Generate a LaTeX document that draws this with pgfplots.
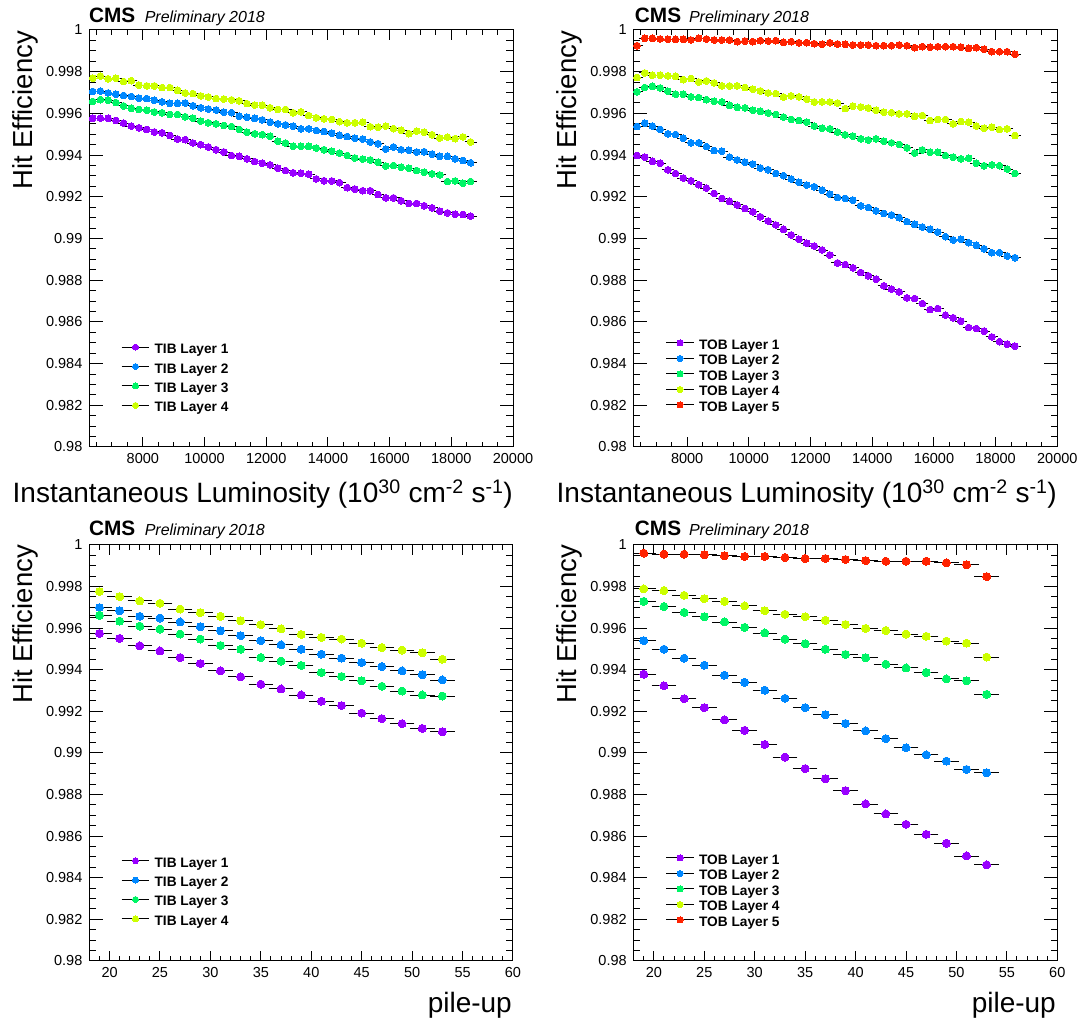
\documentclass[border=0pt]{standalone}
\usepackage{fontspec}
\setmainfont{Liberation Sans}
\usepackage{pgfplots}
\usepackage{pgfplotstable}
\pgfplotsset{compat=1.18}

\definecolor{cPur}{RGB}{153,0,255}
\definecolor{cBlu}{RGB}{0,136,255}
\definecolor{cGrn}{RGB}{0,245,102}
\definecolor{cYel}{RGB}{204,255,0}
\definecolor{cRed}{RGB}{255,34,0}

\pgfplotstableread{
x L1 L2 L3 L4
6375 0.99576 0.99705 0.99657 0.99769
6625 0.99577 0.99707 0.99666 0.99779
6875 0.99576 0.99698 0.99663 0.99766
7125 0.99566 0.99692 0.99652 0.99768
7375 0.99553 0.99686 0.99636 0.99753
7625 0.99539 0.99681 0.99624 0.99757
7875 0.99531 0.99673 0.99619 0.99736
8125 0.99523 0.99671 0.99615 0.99732
8375 0.99511 0.99663 0.99607 0.99732
8625 0.99507 0.99655 0.99603 0.99724
8875 0.99494 0.99648 0.99595 0.99724
9125 0.99477 0.99648 0.99595 0.99711
9375 0.99474 0.99650 0.99584 0.99698
9625 0.99458 0.99637 0.99576 0.99695
9875 0.99450 0.99627 0.99563 0.99684
10125 0.99439 0.99621 0.99555 0.99679
10375 0.99426 0.99616 0.99550 0.99671
10625 0.99415 0.99606 0.99542 0.99669
10875 0.99398 0.99603 0.99537 0.99665
11125 0.99394 0.99586 0.99523 0.99660
11375 0.99382 0.99582 0.99510 0.99647
11625 0.99369 0.99576 0.99502 0.99640
11875 0.99361 0.99569 0.99498 0.99639
12125 0.99353 0.99558 0.99490 0.99627
12375 0.99337 0.99550 0.99466 0.99619
12625 0.99326 0.99545 0.99458 0.99619
12875 0.99315 0.99539 0.99442 0.99603
13125 0.99313 0.99526 0.99442 0.99607
13375 0.99308 0.99526 0.99442 0.99590
13625 0.99286 0.99518 0.99434 0.99579
13875 0.99277 0.99513 0.99426 0.99574
14125 0.99276 0.99505 0.99418 0.99571
14375 0.99268 0.99495 0.99410 0.99560
14625 0.99244 0.99489 0.99398 0.99555
14875 0.99237 0.99481 0.99386 0.99555
15125 0.99229 0.99477 0.99381 0.99558
15375 0.99229 0.99463 0.99377 0.99536
15625 0.99211 0.99455 0.99366 0.99534
15875 0.99195 0.99429 0.99348 0.99539
16125 0.99195 0.99439 0.99350 0.99527
16375 0.99181 0.99426 0.99342 0.99519
16625 0.99168 0.99423 0.99337 0.99503
16875 0.99168 0.99415 0.99326 0.99515
17125 0.99157 0.99416 0.99318 0.99510
17375 0.99147 0.99405 0.99310 0.99498
17625 0.99131 0.99394 0.99305 0.99482
17875 0.99123 0.99394 0.99273 0.99486
18125 0.99116 0.99382 0.99276 0.99479
18375 0.99115 0.99374 0.99265 0.99487
18625 0.99107 0.99363 0.99273 0.99463
}\tabTL

\pgfplotstableread{
x L1 L2 L3 L4 L5
6375 0.99398 0.99537 0.99703 0.99772 0.99925
6625 0.99390 0.99553 0.99724 0.99794 0.99960
6875 0.99370 0.99539 0.99730 0.99783 0.99960
7125 0.99361 0.99523 0.99722 0.99783 0.99957
7375 0.99329 0.99502 0.99706 0.99780 0.99955
7625 0.99312 0.99499 0.99692 0.99778 0.99955
7875 0.99290 0.99481 0.99692 0.99762 0.99955
8125 0.99277 0.99459 0.99679 0.99767 0.99952
8375 0.99258 0.99459 0.99676 0.99751 0.99960
8625 0.99242 0.99441 0.99666 0.99756 0.99957
8875 0.99216 0.99422 0.99658 0.99746 0.99952
9125 0.99192 0.99419 0.99655 0.99732 0.99952
9375 0.99178 0.99390 0.99639 0.99732 0.99952
9625 0.99161 0.99377 0.99629 0.99732 0.99944
9875 0.99144 0.99366 0.99626 0.99724 0.99947
10125 0.99128 0.99357 0.99615 0.99716 0.99944
10375 0.99104 0.99338 0.99610 0.99708 0.99949
10625 0.99084 0.99330 0.99602 0.99698 0.99947
10875 0.99065 0.99312 0.99595 0.99695 0.99949
11125 0.99044 0.99301 0.99582 0.99679 0.99941
11375 0.99017 0.99285 0.99571 0.99684 0.99944
11625 0.98996 0.99269 0.99566 0.99679 0.99939
11875 0.98977 0.99256 0.99558 0.99668 0.99939
12125 0.98964 0.99248 0.99539 0.99655 0.99934
12375 0.98945 0.99232 0.99529 0.99655 0.99931
12625 0.98921 0.99213 0.99526 0.99655 0.99939
12875 0.98883 0.99197 0.99510 0.99650 0.99933
13125 0.98875 0.99192 0.99497 0.99623 0.99931
13375 0.98859 0.99184 0.99491 0.99635 0.99928
13625 0.98837 0.99157 0.99478 0.99631 0.99928
13875 0.98821 0.99149 0.99473 0.99626 0.99928
14125 0.98805 0.99133 0.99478 0.99615 0.99925
14375 0.98773 0.99120 0.99467 0.99606 0.99925
14625 0.98757 0.99113 0.99459 0.99603 0.99925
14875 0.98744 0.99100 0.99451 0.99598 0.99928
15125 0.98715 0.99081 0.99435 0.99598 0.99925
15375 0.98712 0.99068 0.99410 0.99586 0.99915
15625 0.98688 0.99055 0.99425 0.99590 0.99920
15875 0.98659 0.99044 0.99414 0.99566 0.99918
16125 0.98664 0.99031 0.99414 0.99571 0.99920
16375 0.98632 0.99009 0.99398 0.99571 0.99920
16625 0.98620 0.98993 0.99390 0.99550 0.99920
16875 0.98604 0.98996 0.99382 0.99561 0.99918
17125 0.98573 0.98980 0.99385 0.99558 0.99912
17375 0.98568 0.98967 0.99361 0.99539 0.99915
17625 0.98556 0.98951 0.99349 0.99529 0.99907
17875 0.98528 0.98932 0.99353 0.99534 0.99896
18125 0.98505 0.98932 0.99349 0.99523 0.99896
18375 0.98493 0.98916 0.99333 0.99526 0.99896
18625 0.98484 0.98908 0.99312 0.99494 0.99883
}\tabTR

\pgfplotstableread{
x L1 L2 L3 L4
19 0.99575 0.99699 0.99662 0.99776
21 0.99551 0.99684 0.99634 0.99752
23 0.99515 0.99657 0.99610 0.99731
25 0.99491 0.99649 0.99596 0.99720
27 0.99459 0.99630 0.99572 0.99692
29 0.99430 0.99607 0.99548 0.99675
31 0.99395 0.99588 0.99517 0.99657
33 0.99366 0.99564 0.99499 0.99636
35 0.99331 0.99540 0.99459 0.99617
37 0.99308 0.99520 0.99442 0.99597
39 0.99279 0.99499 0.99421 0.99570
41 0.99249 0.99475 0.99387 0.99556
43 0.99228 0.99456 0.99368 0.99548
45 0.99192 0.99435 0.99347 0.99528
47 0.99165 0.99416 0.99321 0.99507
49 0.99141 0.99395 0.99298 0.99495
51 0.99118 0.99376 0.99279 0.99482
53 0.99102 0.99351 0.99274 0.99451
}\tabBL

\pgfplotstableread{
x L1 L2 L3 L4 L5
19 0.99379 0.99540 0.99729 0.99789 0.99961
21 0.99323 0.99499 0.99704 0.99781 0.99956
23 0.99261 0.99456 0.99676 0.99758 0.99956
25 0.99218 0.99422 0.99655 0.99742 0.99953
27 0.99159 0.99374 0.99630 0.99729 0.99948
29 0.99109 0.99340 0.99604 0.99707 0.99945
31 0.99041 0.99302 0.99577 0.99684 0.99945
33 0.98980 0.99263 0.99548 0.99667 0.99940
35 0.98925 0.99218 0.99525 0.99655 0.99935
37 0.98876 0.99184 0.99499 0.99638 0.99935
39 0.98819 0.99142 0.99474 0.99618 0.99930
41 0.98755 0.99106 0.99458 0.99599 0.99925
43 0.98707 0.99069 0.99427 0.99589 0.99922
45 0.98657 0.99025 0.99409 0.99572 0.99922
47 0.98609 0.98991 0.99387 0.99561 0.99922
49 0.98566 0.98961 0.99356 0.99538 0.99914
51 0.98505 0.98921 0.99347 0.99528 0.99905
53 0.98462 0.98905 0.99282 0.99461 0.99848
}\tabBR

\pgfplotsset{
  rootframe/.style={
    scale only axis, anchor=south west,
    width=423.6pt, height=417pt,
    ymin=0.98, ymax=1,
    ytick={0.98,0.982,0.984,0.986,0.988,0.99,0.992,0.994,0.996,0.998,1},
    yticklabels={0.98,0.982,0.984,0.986,0.988,0.99,0.992,0.994,0.996,0.998,1},
    minor y tick num=3,
    scaled x ticks=false, scaled y ticks=false,
    tick align=inside, xtick pos=both, ytick pos=both,
    major tick length=13.3pt, minor tick length=6.7pt,
    xtick style={/pgfplots/major tick length=10pt,/pgfplots/minor tick length=5pt},
    tick style={line width=1pt, black},
    axis line style={line width=1pt},
    ticklabel style={font=\fontsize{14.5}{17}\selectfont},
    yticklabel style={xshift=-3.5pt},
    xticklabel style={yshift=-3pt},
    legend cell align=left,
    legend style={draw=none, fill=none, anchor=north west,
      font=\fontsize{13.7}{16}\selectfont\bfseries,
      nodes={inner sep=0pt, text height=10pt, text depth=0pt},
      /tikz/every odd column/.style={column sep=4.8pt}},
  },
  lumiaxis/.style={rootframe, xmin=6268, xmax=20000,
    xtick={8000,10000,12000,14000,16000,18000,20000},
    xticklabels={8000,10000,12000,14000,16000,18000,20000},
    minor xtick={6500,7000,7500,8500,9000,9500,10500,11000,11500,12500,13000,13500,14500,15000,15500,16500,17000,17500,18500,19000,19500}},
  puaxis/.style={rootframe, xmin=18, xmax=60,
    xtick={20,25,30,35,40,45,50,55,60},
    xticklabels={20,25,30,35,40,45,50,55,60},
    minor xtick={19,21,22,23,24,26,27,28,29,31,32,33,34,36,37,38,39,41,42,43,44,46,47,48,49,51,52,53,54,56,57,58,59}},
  pts/.style n args={3}{only marks, mark=*, color=#1, mark size=#2,
    mark options={draw=#1, fill=#1, line width=0pt, solid},
    error bars/.cd, x dir=both, x fixed=#3,
    error bar style={black, line width=0.9pt},
    error mark options={black, line width=0.9pt, mark size=2.2pt},
    /pgfplots/.cd,
    legend image code/.code={
      \draw[black, line width=1pt, solid] (0pt,1.5pt) -- (27.6pt,1.5pt);
      \draw[mark repeat=2, mark phase=2, mark size=3pt] plot coordinates {(0pt,1.5pt) (13.8pt,1.5pt) (27.6pt,1.5pt)};
    }},
}

\newcommand{\cms}[2]{%
  \node[anchor=base west, inner sep=0pt, font=\fontsize{20.8}{24}\selectfont\bfseries] at (#1) {CMS};
  \node[anchor=base west, inner sep=0pt, font=\fontsize{16}{19}\selectfont\itshape] at (#2) {Preliminary 2018};}

\begin{document}
\begin{tikzpicture}
\useasboundingbox (0pt,0pt) rectangle (1082pt,1024pt);

% ---------- top left ----------
\begin{axis}[lumiaxis, at={(89.4pt,577pt)},
  legend style={at={(axis description cs:0.0675,0.253)}, /tikz/row sep=9.4pt}]
\addplot+[pts={cPur}{3.4pt}{125}] table[x=x, y=L1] {\tabTL};
\addlegendentry{TIB Layer 1}
\addplot+[pts={cBlu}{3.4pt}{125}] table[x=x, y=L2] {\tabTL};
\addlegendentry{TIB Layer 2}
\addplot+[pts={cGrn}{3.4pt}{125}] table[x=x, y=L3] {\tabTL};
\addlegendentry{TIB Layer 3}
\addplot+[pts={cYel}{3.4pt}{125}] table[x=x, y=L4] {\tabTL};
\addlegendentry{TIB Layer 4}
\end{axis}

% ---------- top right ----------
\begin{axis}[lumiaxis, at={(633.7pt,577pt)},
  legend style={at={(axis description cs:0.068,0.2631)}, /tikz/row sep=5.5pt}]
\addplot+[pts={cPur}{3.4pt}{125}] table[x=x, y=L1] {\tabTR};
\addlegendentry{TOB Layer 1}
\addplot+[pts={cBlu}{3.4pt}{125}] table[x=x, y=L2] {\tabTR};
\addlegendentry{TOB Layer 2}
\addplot+[pts={cGrn}{3.4pt}{125}] table[x=x, y=L3] {\tabTR};
\addlegendentry{TOB Layer 3}
\addplot+[pts={cYel}{3.4pt}{125}] table[x=x, y=L4] {\tabTR};
\addlegendentry{TOB Layer 4}
\addplot+[pts={cRed}{3.4pt}{125}] table[x=x, y=L5] {\tabTR};
\addlegendentry{TOB Layer 5}
\end{axis}

% ---------- bottom left ----------
\begin{axis}[puaxis, at={(89.4pt,63pt)}, height=416pt,
  legend style={at={(axis description cs:0.0675,0.2548)}, /tikz/row sep=9.4pt}]
\addplot+[pts={cPur}{4pt}{1}] table[x=x, y=L1] {\tabBL};
\addlegendentry{TIB Layer 1}
\addplot+[pts={cBlu}{4pt}{1}] table[x=x, y=L2] {\tabBL};
\addlegendentry{TIB Layer 2}
\addplot+[pts={cGrn}{4pt}{1}] table[x=x, y=L3] {\tabBL};
\addlegendentry{TIB Layer 3}
\addplot+[pts={cYel}{4pt}{1}] table[x=x, y=L4] {\tabBL};
\addlegendentry{TIB Layer 4}
\end{axis}

% ---------- bottom right ----------
\begin{axis}[puaxis, at={(633.7pt,63pt)}, height=416pt,
  legend style={at={(axis description cs:0.068,0.2613)}, /tikz/row sep=5.5pt}]
\addplot+[pts={cPur}{4pt}{1}] table[x=x, y=L1] {\tabBR};
\addlegendentry{TOB Layer 1}
\addplot+[pts={cBlu}{4pt}{1}] table[x=x, y=L2] {\tabBR};
\addlegendentry{TOB Layer 2}
\addplot+[pts={cGrn}{4pt}{1}] table[x=x, y=L3] {\tabBR};
\addlegendentry{TOB Layer 3}
\addplot+[pts={cYel}{4pt}{1}] table[x=x, y=L4] {\tabBR};
\addlegendentry{TOB Layer 4}
\addplot+[pts={cRed}{4pt}{1}] table[x=x, y=L5] {\tabBR};
\addlegendentry{TOB Layer 5}
\end{axis}

% ---------- texts ----------
\cms{88.8pt,1001.5pt}{144.6pt,1001.5pt}
\cms{634.7pt,1001.5pt}{688.8pt,1001.5pt}
\cms{88.8pt,488pt}{144.6pt,488pt}
\cms{634.7pt,488pt}{688.8pt,488pt}

\begin{scope}[every node/.style={inner sep=0pt, font=\fontsize{27.5}{30}\selectfont}]
\node[rotate=90, anchor=base east] at (32.7pt,993pt) {Hit Efficiency};
\node[rotate=90, anchor=base east] at (576pt,993pt) {Hit Efficiency};
\node[rotate=90, anchor=base east] at (32.7pt,479pt) {Hit Efficiency};
\node[rotate=90, anchor=base east] at (576pt,479pt) {Hit Efficiency};
\node[anchor=base east, font=\fontsize{28}{30}\selectfont] at (513pt,521pt) {Instantaneous Luminosity (10\textsuperscript{30} cm\textsuperscript{-2} s\textsuperscript{-1})};
\node[anchor=base east, font=\fontsize{28}{30}\selectfont] at (1057pt,521pt) {Instantaneous Luminosity (10\textsuperscript{30} cm\textsuperscript{-2} s\textsuperscript{-1})};
\node[anchor=base east, font=\fontsize{28}{30}\selectfont] at (512pt,11pt) {pile-up};
\node[anchor=base east, font=\fontsize{28}{30}\selectfont] at (1056pt,11pt) {pile-up};
\end{scope}
\end{tikzpicture}
\end{document}
